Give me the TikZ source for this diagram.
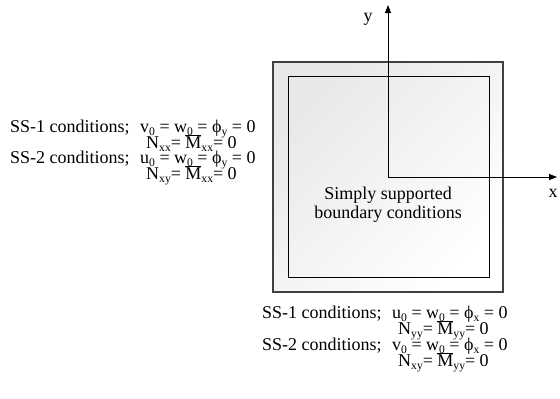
\documentclass[tikz,border=0pt]{standalone}
\usepackage{fontspec}
\setmainfont{Liberation Serif}
\usetikzlibrary{arrows.meta}
\newcommand\lo[1]{\raisebox{-3.6bp}{\fontsize{11.6bp}{11.6bp}\selectfont #1}}
\newcommand\barM{\ensuremath{\overline{\mbox{M}}}}
\newcommand\ph{\char"03D5}
\begin{document}
\begin{tikzpicture}[x=1bp,y=-1bp,
  txt/.style={inner sep=0pt, anchor=base west, font=\fontsize{18bp}{19bp}\selectfont},
  ctxt/.style={inner sep=0pt, anchor=base, font=\fontsize{18bp}{19bp}\selectfont},
  axis/.style={line width=0.9bp, -{Triangle[length=8bp,width=6bp]}}]
\useasboundingbox (0,0) rectangle (560,398);
% plate
\shade[top color=black!9, middle color=black!2, bottom color=white, shading angle=45]
  (273,62) rectangle (503,292);
\draw[line width=1.3bp, black!75] (273,62) rectangle (503,292);
\draw[line width=0.9bp] (288,76) rectangle (489,277);
% axes
\coordinate (O) at (388,177);
\coordinate (Y) at (388,5);
\coordinate (X) at (557,177);
\draw[axis] (O) -- (Y);
\draw[axis] (O) -- (X);
\node[ctxt] (ly) at (368,21) {y};
\node[ctxt] (lx) at (553,197) {x};
\node[ctxt] (c1) at (388,199) {Simply supported};
\node[ctxt] (c2) at (388,218) {boundary conditions};
% left block
\node[txt] (l1) at (10,132) {SS-1 conditions;};
\node[txt] (e1) at (140,132) {v\lo{0} = w\lo{0} = \ph\lo{y} = 0};
\node[txt] (e2) at (146,148) {N\lo{xx}= \barM\lo{xx}= 0};
\node[txt] (l2) at (10,163) {SS-2 conditions;};
\node[txt] (e3) at (140,163) {u\lo{0} = w\lo{0} = \ph\lo{y} = 0};
\node[txt] (e4) at (146,179) {N\lo{xy}= \barM\lo{xx}= 0};
% bottom block
\node[txt] (b1) at (262,318) {SS-1 conditions;};
\node[txt] (f1) at (392,318) {u\lo{0} = w\lo{0} = \ph\lo{x} = 0};
\node[txt] (f2) at (398,334) {N\lo{yy}= \barM\lo{yy}= 0};
\node[txt] (b2) at (262,350) {SS-2 conditions;};
\node[txt] (f3) at (392,350) {v\lo{0} = w\lo{0} = \ph\lo{x} = 0};
\node[txt] (f4) at (398,366) {N\lo{xy}= \barM\lo{yy}= 0};
\end{tikzpicture}
\end{document}
